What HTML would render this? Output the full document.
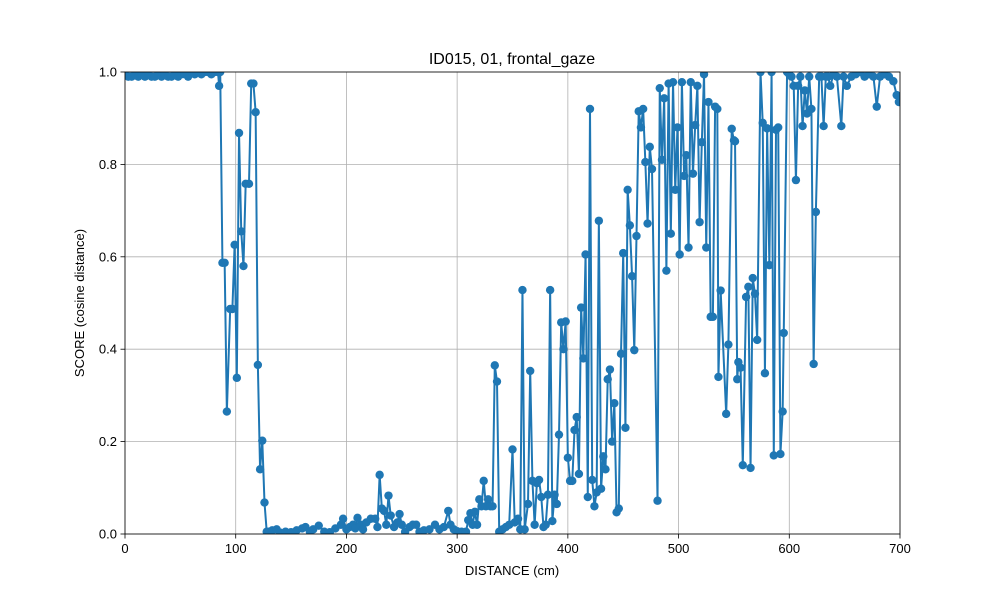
<!DOCTYPE html>
<html><head><meta charset="utf-8"><style>
body{margin:0;background:#fff;font-family:"Liberation Sans","DejaVu Sans",sans-serif}
svg text{font-family:"Liberation Sans","DejaVu Sans",sans-serif;fill:#000}
</style></head><body>
<svg id="chart" width="1000" height="600" xmlns="http://www.w3.org/2000/svg">
<rect width="1000" height="600" fill="#fff"/>
<g id="grid"></g><g id="series"></g><g id="axes"></g>
<text x="512" y="64" font-size="16" text-anchor="middle">ID015, 01, frontal_gaze</text>
<text x="512" y="575" font-size="13" text-anchor="middle">DISTANCE (cm)</text>
<text x="84" y="303" font-size="13" text-anchor="middle" transform="rotate(-90 84 303)">SCORE (cosine distance)</text>
</svg>
<script>
const xTicks=[0,100,200,300,400,500,600,700];
const xTickLabels=["0","100","200","300","400","500","600","700"];
const yTicks=[0,0.2,0.4,0.6,0.8,1.0];
const yTickLabels=["0.0","0.2","0.4","0.6","0.8","1.0"];
const distances=[0,3,6,9,12,15,18,21,24,27,30,33,36,39,42,45,48,51,54,57,60,63,66,69,72,75,78,81,84,85,86,88,90,92,95,97,99,101,103,105,107,109,112,114,116,118,120,122,124,126,128,130,133,137,140,145,150,155,160,163,167,170,175,180,185,190,195,197,200,203,206,208,210,213,215,218,222,226,228,230,232,234,236,238,240,243,246,248,250,253,257,260,263,266,270,275,280,284,288,292,294,297,300,304,308,310,312,314,316,318,320,322,324,326,328,330,332,334,336,338,341,344,347,350,352,355,357,359,361,364,366,368,370,372,374,376,378,380,382,384,386,388,390,392,394,396,398,400,402,404,406,408,410,412,414,416,418,420,422,424,426,428,430,432,434,436,438,440,442,444,446,448,450,452,454,456,458,460,462,464,466,468,470,472,474,476,481,483,485,487,489,491,493,495,497,499,501,503,505,507,509,511,513,515,517,519,521,523,525,527,529,531,533,535,536,538,543,545,548,550,551,553,554,556,558,561,563,565,567,569,571,574,576,578,580,582,584,586,588,590,592,594,595,598,600,602,604,606,608,610,612,614,616,618,620,622,624,627,629,631,633,635,637,640,643,647,649,652,656,660,664,668,672,676,679,682,686,690,694,697,699];
const scores=[0.995,0.99,0.99,0.995,0.99,0.995,0.99,0.995,0.99,0.99,0.995,0.99,0.995,0.99,0.99,0.995,0.99,0.995,0.995,0.99,1.0,0.995,1.0,0.995,1.0,1.0,0.995,1.0,1.0,0.97,1.0,0.587,0.587,0.265,0.487,0.487,0.626,0.338,0.868,0.655,0.58,0.758,0.758,0.975,0.975,0.913,0.366,0.14,0.202,0.068,0.005,0.005,0.008,0.01,0.003,0.005,0.004,0.008,0.012,0.015,0.005,0.01,0.018,0.005,0.004,0.012,0.02,0.033,0.01,0.015,0.02,0.012,0.035,0.02,0.01,0.025,0.033,0.033,0.015,0.128,0.055,0.05,0.02,0.083,0.04,0.015,0.025,0.043,0.02,0.005,0.015,0.02,0.02,0.005,0.008,0.01,0.02,0.01,0.015,0.05,0.02,0.01,0.006,0.005,0.005,0.03,0.045,0.02,0.048,0.02,0.075,0.06,0.115,0.06,0.075,0.06,0.06,0.365,0.33,0.005,0.01,0.015,0.02,0.183,0.025,0.033,0.01,0.528,0.01,0.065,0.353,0.115,0.02,0.11,0.117,0.08,0.015,0.02,0.085,0.528,0.028,0.085,0.065,0.215,0.458,0.40,0.46,0.165,0.115,0.115,0.225,0.253,0.13,0.49,0.38,0.605,0.08,0.92,0.117,0.06,0.09,0.678,0.098,0.168,0.14,0.335,0.356,0.2,0.283,0.047,0.055,0.39,0.608,0.23,0.745,0.668,0.558,0.398,0.645,0.915,0.88,0.92,0.805,0.672,0.838,0.79,0.072,0.965,0.81,0.943,0.57,0.975,0.65,0.978,0.745,0.88,0.605,0.978,0.775,0.82,0.62,0.978,0.78,0.885,0.97,0.675,0.848,0.995,0.62,0.935,0.47,0.47,0.925,0.92,0.34,0.527,0.26,0.41,0.877,0.852,0.85,0.335,0.372,0.36,0.149,0.513,0.535,0.143,0.554,0.52,0.42,1.0,0.89,0.348,0.878,0.582,1.0,0.17,0.875,0.88,0.173,0.265,0.435,1.0,0.995,0.99,0.97,0.766,0.97,0.99,0.883,0.96,0.91,0.99,0.92,0.368,0.697,0.99,0.99,0.883,0.99,0.99,0.97,0.995,0.99,0.883,0.99,0.97,0.99,0.995,1.0,0.99,0.995,0.99,0.925,0.99,0.995,0.99,0.98,0.95,0.935];

const X0=125,X1=900,Y0=534,Y1=72;
const xs=v=>X0+(v-0)/(700-0)*(X1-X0);
const ys=v=>Y0-(v-0)/(1-0)*(Y0-Y1);
const NS="http://www.w3.org/2000/svg";
function mk(tag,attrs,parent){const e=document.createElementNS(NS,tag);for(const k in attrs)e.setAttribute(k,attrs[k]);parent.appendChild(e);return e;}
const grid=document.getElementById('grid'),axes=document.getElementById('axes'),series=document.getElementById('series');
xTicks.forEach((t,i)=>{
  const g=mk('line',{x1:xs(t),x2:xs(t),y1:Y0,y2:Y1,stroke:'#b0b0b0','stroke-width':0.8},grid);
  
  
  mk('line',{x1:xs(t),x2:xs(t),y1:Y0,y2:Y0+4.5,stroke:'#000','stroke-width':0.8},axes);
  const l=mk('text',{x:xs(t),y:Y0+19,'font-size':13,'text-anchor':'middle'},axes);
  l.textContent=xTickLabels[i];
  
  
});
yTicks.forEach((t,i)=>{
  const g=mk('line',{x1:X0,x2:X1,y1:ys(t),y2:ys(t),stroke:'#b0b0b0','stroke-width':0.8},grid);
  
  
  mk('line',{x1:X0-4.5,x2:X0,y1:ys(t),y2:ys(t),stroke:'#000','stroke-width':0.8},axes);
  const l=mk('text',{x:X0-8,y:ys(t)+4.5,'font-size':13,'text-anchor':'end'},axes);
  l.textContent=yTickLabels[i];
  
  
});
const frame=mk('rect',{x:X0,y:Y1,width:X1-X0,height:Y0-Y1,fill:'none',stroke:'#000','stroke-width':0.8},axes);


const clip=mk('clipPath',{id:'pc'},document.getElementById('chart'));
mk('rect',{x:X0,y:Y1,width:X1-X0,height:Y0-Y1},clip);
series.setAttribute('clip-path','url(#pc)');
const pts=distances.map((d,i)=>xs(d)+','+ys(scores[i])).join(' ');
const line=mk('polyline',{points:pts,fill:'none',stroke:'#1f77b4','stroke-width':2,'stroke-linejoin':'round'},series);


distances.forEach((d,i)=>{
  const c=mk('circle',{cx:xs(d),cy:ys(scores[i]),r:4.2,fill:'#1f77b4'},series);
  
  
});
</script>
</body></html>
